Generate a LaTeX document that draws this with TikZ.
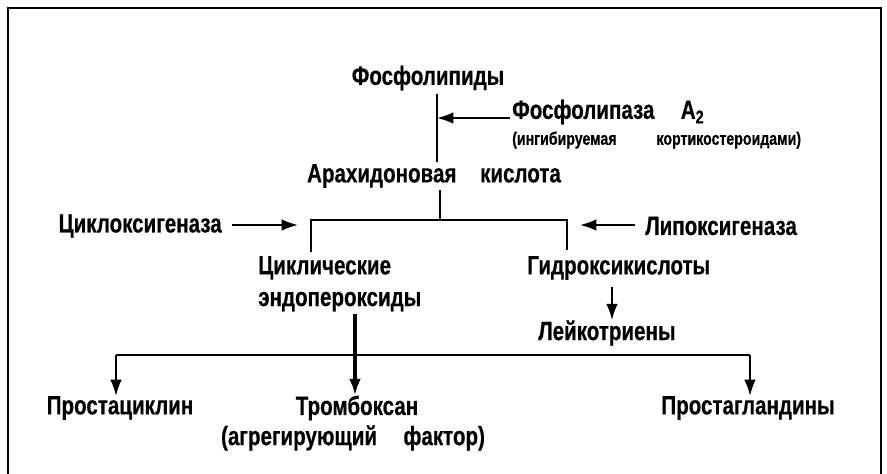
\documentclass[tikz,border=0pt]{standalone}
\usepackage{fontspec}
\setmainfont{Liberation Sans}[FakeStretch=0.78, BoldFeatures={FakeBold=0.5}]
\usetikzlibrary{arrows.meta,calc}
\tikzset{
  lbl/.style={
    font = \bfseries\fontsize{22.5}{27}\selectfont,
    inner sep = 0pt
  },
  note/.style={
    font = \bfseries\fontsize{15.5}{18}\selectfont,
    inner sep = 0pt
  },
  ln/.style={
    line width = 1.8pt
  },
  arr/.style={
    line width = 1.8pt,
    -{Latex[length=14pt,width=10pt]}
  },
  bigarr/.style={
    line width = 3.4pt,
    -{Latex[length=14pt,width=10pt]}
  }
}

\begin{document}
\begin{tikzpicture}[x=0.03cm,y=-0.03cm]
        \useasboundingbox (0,0) rectangle (887,474);
        \draw[line width=2.4pt] (8,474) -- (8,8) -- (881,8) -- (881,474);
        % labels
        \node[lbl] (fl) at (428,78) {Фосфолипиды};
        \node[lbl, anchor=west] (fla) at (512,112) {Фосфолипаза\quad A\textsubscript{2}};
        \node[note, anchor=west] (ing) at (512,140) {(ингибируемая\hspace{2.2em}кортикостероидами)};
        \node[lbl] (ak) at (434,176) {Арахидоновая\hspace{0.9em}кислота};
        \node[lbl, anchor=east] (cox) at (222,226) {Циклоксигеназа};
        \node[lbl, anchor=west] (lox) at (645,226) {Липоксигеназа};
        \node[lbl, anchor=north west, align=left] (ce) at (258,256) {Циклические\\эндопероксиды};
        \node[lbl, anchor=west] (gk) at (527,268) {Гидроксикислоты};
        \node[lbl, anchor=west] (lt) at (538,333) {Лейкотриены};
        \node[lbl] (pc) at (120,408) {Простациклин};
        \node[lbl] (tx) at (357,408) {Тромбоксан};
        \node[lbl] (af) at (353,438) {(агрегирующий\hspace{1em}фактор)};
        \node[lbl] (pg) at (748,408) {Простагландины};
        % trunk
        \coordinate (tr1) at (437,94);
        \coordinate (tr2) at (437,162);
        \coordinate (fa) at (510,118);
        \draw[ln] (tr1) -- (tr2);
        \draw[arr] (fa) -- (fa -| tr1);
        % bracket
        \coordinate (ks) at (440,190);
        \coordinate (kb) at (440,220);
        \coordinate (bl) at (311,252);
        \coordinate (br) at (567,250);
        \draw[ln] (ks) -- (kb);
        \draw[ln] (bl) |- (kb) -| (br);
        \coordinate (ca) at (232,225);
        \coordinate (cb) at (298,225);
        \coordinate (la) at (635,225);
        \coordinate (lb) at (580,225);
        \draw[arr] (ca) -- (cb);
        \draw[arr] (la) -- (lb);
        \coordinate (ga) at (612,287);
        \draw[arr] (ga) -- (ga |- lt.north);
        % branches
        \coordinate (hl) at (116,355);
        \coordinate (hr) at (750,355);
        \coordinate (ea) at (355,314);
        \draw[ln] (hl) -- (hr);
        \draw[arr] (hl) -- (hl |- pc.north);
        \draw[arr] (hr) -- (hr |- pg.north);
        \draw[bigarr] (ea) -- (ea |- tx.north);
\end{tikzpicture}
\end{document}
